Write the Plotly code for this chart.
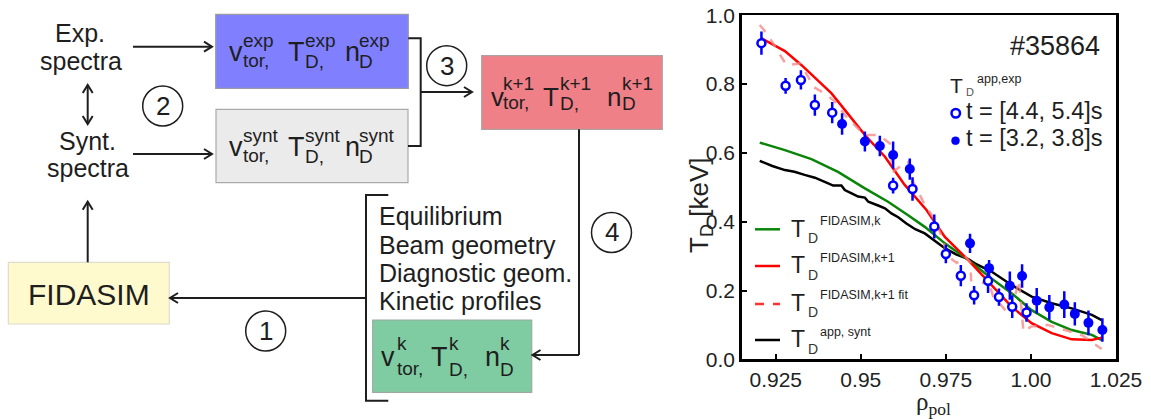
import plotly.graph_objects as go

# ---------------- data ----------------
rho_open = [0.9208, 0.9279, 0.9324, 0.9365, 0.9416, 0.9595, 0.9652, 0.9716, 0.9750, 0.9794,
            0.9833, 0.9874, 0.9906, 0.9945, 0.9987]
T_open = [0.919, 0.795, 0.812, 0.739, 0.717, 0.505, 0.495, 0.386, 0.306, 0.243,
          0.186, 0.228, 0.181, 0.153, 0.136]
err_open = [0.034, 0.023, 0.028, 0.031, 0.031, 0.023, 0.034, 0.035, 0.027, 0.031,
            0.027, 0.035, 0.025, 0.033, 0.027]

rho_fill = [0.9445, 0.9512, 0.9556, 0.9595, 0.9644, 0.9821, 0.9877, 0.9938, 0.9974, 1.0017,
            1.0054, 1.0098, 1.0129, 1.0169, 1.0210]
T_fill = [0.684, 0.633, 0.620, 0.594, 0.553, 0.337, 0.265, 0.214, 0.242, 0.170,
          0.151, 0.159, 0.132, 0.106, 0.085]
err_fill = [0.031, 0.029, 0.030, 0.039, 0.031, 0.028, 0.024, 0.041, 0.034, 0.037,
            0.036, 0.039, 0.034, 0.036, 0.034]

rho_red = [0.9208, 0.9277, 0.9326, 0.9414, 0.9453, 0.9512, 0.9571, 0.9629, 0.9693, 0.9747,
           0.9816, 0.9884, 0.9943, 1.0002, 1.0061, 1.0120, 1.0179, 1.0208]
T_red = [0.933, 0.896, 0.855, 0.773, 0.725, 0.652, 0.589, 0.507, 0.434, 0.356,
         0.288, 0.216, 0.153, 0.105, 0.076, 0.058, 0.056, 0.063]

rho_green = [0.9203, 0.9277, 0.9355, 0.9433, 0.9512, 0.9580, 0.9639, 0.9688, 0.9747, 0.9816,
             0.9884, 0.9943, 1.0002, 1.0061, 1.0120, 1.0179, 1.0208]
T_green = [0.630, 0.608, 0.582, 0.545, 0.497, 0.458, 0.419, 0.385, 0.337, 0.289,
           0.235, 0.192, 0.143, 0.109, 0.085, 0.071, 0.056]

rho_black = [0.9203, 0.9240, 0.9277, 0.9305, 0.9335, 0.9365, 0.9394, 0.9419, 0.9443, 0.9453,
             0.9473, 0.9492, 0.9512, 0.9522, 0.9551, 0.9571, 0.9590, 0.9610, 0.9634, 0.9660,
             0.9688, 0.9718, 0.9747, 0.9780, 0.9816, 0.9835, 0.9884, 0.9943, 1.0002, 1.0061,
             1.0120, 1.0179, 1.0208]
T_black = [0.577, 0.562, 0.550, 0.545, 0.536, 0.528, 0.516, 0.505, 0.505, 0.492,
           0.482, 0.473, 0.470, 0.458, 0.447, 0.439, 0.424, 0.413, 0.395, 0.378,
           0.366, 0.345, 0.323, 0.305, 0.291, 0.279, 0.255, 0.216, 0.182, 0.163,
           0.148, 0.129, 0.114]

rho_fit = [0.9203, 0.9227, 0.9257, 0.9282, 0.9321, 0.9345, 0.9360, 0.9394, 0.9424, 0.9453,
           0.9482, 0.9512, 0.9551, 0.9585, 0.9595, 0.9615, 0.9639, 0.9654, 0.9688, 0.9718,
           0.9742, 0.9752, 0.9782, 0.9806, 0.9822, 0.9826, 0.9852, 0.9872, 0.9890, 0.9910,
           0.9935, 0.9950, 0.9965, 0.9978, 1.0000, 1.0050, 1.0100, 1.0150, 1.0208]
T_fit = [0.972, 0.943, 0.894, 0.855, 0.860, 0.822, 0.792, 0.773, 0.749, 0.710,
         0.681, 0.652, 0.652, 0.628, 0.545, 0.560, 0.574, 0.516, 0.449, 0.405,
         0.347, 0.303, 0.280, 0.300, 0.280, 0.190, 0.215, 0.235, 0.180, 0.160,
         0.130, 0.170, 0.230, 0.080, 0.095, 0.100, 0.085, 0.070, 0.030]

x_ticks = [0.925, 0.95, 0.975, 1.0, 1.025]
x_ticktext = ["0.925", "0.95", "0.975", "1.00", "1.025"]
y_ticks = [0.0, 0.2, 0.4, 0.6, 0.8, 1.0]
y_ticktext = ["0.0", "0.2", "0.4", "0.6", "0.8", "1.0"]

# ---------------- helpers ----------------
W, H = 1151, 419
FONT = "Arial, Liberation Sans, Helvetica, sans-serif"
SERIF = "Times New Roman, Liberation Serif, serif"
INK = "#1e1e1e"


def X(px):
    return px / W


def Y(py):
    return 1 - py / H


fig = go.Figure()


def text(px, base, s, fs, anchor="left", family=FONT, color=INK):
    fig.add_annotation(x=X(px), y=Y(base - 0.35 * fs), xref="paper", yref="paper",
                       text=s, showarrow=False, xanchor=anchor, yanchor="middle",
                       font=dict(family=family, size=fs, color=color),
                       borderpad=0, borderwidth=0)


def path(points, width=2):
    d = "M " + " L ".join(f"{X(a):.5f},{Y(b):.5f}" for a, b in points)
    fig.add_shape(type="path", path=d, xref="paper", yref="paper",
                  line=dict(color=INK, width=width))


def head(tx, ty, dx, dy):
    # open chevron arrow head with its tip at (tx, ty), pointing along (dx, dy)
    bx, by = tx - 8 * dx, ty - 8 * dy
    px_, py_ = -dy, dx
    path([(bx + 5 * px_, by + 5 * py_), (tx, ty), (bx - 5 * px_, by - 5 * py_)])


def arrow(x0, y0, x1, y1, both=False):
    path([(x0, y0), (x1, y1)])
    L = ((x1 - x0) ** 2 + (y1 - y0) ** 2) ** 0.5
    dx, dy = (x1 - x0) / L, (y1 - y0) / L
    head(x1, y1, dx, dy)
    if both:
        head(x0, y0, -dx, -dy)


def box(x0, y0, x1, y1, fill, edge):
    fig.add_shape(type="rect", xref="paper", yref="paper", x0=X(x0), x1=X(x1),
                  y0=Y(y1), y1=Y(y0), fillcolor=fill, line=dict(color=edge, width=1.2),
                  layer="below")


def circ_num(cx, cy, s, r=20):
    fig.add_shape(type="circle", xref="paper", yref="paper", x0=X(cx - r), x1=X(cx + r),
                  y0=Y(cy + r), y1=Y(cy - r), line=dict(color=INK, width=1.5))
    text(cx, cy + 9, s, 26, anchor="center")


def stacked(px, base, main, fs, spx, sup, sbase_sup, sub, sbase_sub, fs2):
    text(px, base, main, fs)
    text(spx, sbase_sup, sup, fs2)
    text(spx, sbase_sub, sub, fs2)


# ---------------- plot traces ----------------
fig.add_trace(go.Scatter(x=rho_black, y=T_black, mode="lines",
                         line=dict(color="black", width=2.5), showlegend=False))
fig.add_trace(go.Scatter(x=rho_green, y=T_green, mode="lines",
                         line=dict(color="#0a850a", width=2.5), showlegend=False))
fig.add_trace(go.Scatter(x=rho_red, y=T_red, mode="lines",
                         line=dict(color="#ff0000", width=2.5), showlegend=False))
fig.add_trace(go.Scatter(x=rho_fit, y=T_fit, mode="lines",
                         line=dict(color="rgba(245,130,130,0.75)", width=2.5, dash="dash"),
                         showlegend=False))
fig.add_trace(go.Scatter(x=rho_fill, y=T_fill, mode="markers",
                         marker=dict(color="#0000ff", size=10, line=dict(width=0)),
                         error_y=dict(type="data", array=err_fill, color="#0000ff",
                                      thickness=2.5, width=0),
                         showlegend=False))
fig.add_trace(go.Scatter(x=rho_open, y=T_open, mode="markers",
                         marker=dict(color="white", size=8, line=dict(color="#0000ff", width=2.5)),
                         error_y=dict(type="data", array=err_open, color="#0000ff",
                                      thickness=2.5, width=0),
                         showlegend=False))

fig.update_xaxes(range=[0.915, 1.025], domain=[X(741.7), X(1116)],
                 tickvals=x_ticks, ticktext=x_ticktext, ticks="inside", ticklen=5,
                 tickwidth=2, tickcolor="black", showline=True, mirror=True,
                 linecolor="black", linewidth=2.5, showgrid=False, zeroline=False,
                 tickfont=dict(family=FONT, size=21, color="#222"), automargin=False)
fig.update_yaxes(range=[0, 1], domain=[Y(359.3), Y(15.3)],
                 tickvals=y_ticks, ticktext=y_ticktext, ticks="inside", ticklen=5,
                 tickwidth=2, tickcolor="black", showline=True, mirror=True,
                 linecolor="black", linewidth=2.5, showgrid=False, zeroline=False,
                 tickfont=dict(family=FONT, size=21, color="#222"), automargin=False)

# axis titles
fig.add_annotation(x=X(700), y=Y(205), xref="paper", yref="paper", showarrow=False,
                   text="T<sub>D</sub> [keV]", textangle=-90, xanchor="center", yanchor="middle",
                   font=dict(family=FONT, size=26, color="#222"))
fig.add_annotation(x=X(933), y=Y(403), xref="paper", yref="paper", showarrow=False,
                   text="ρ<sub>pol</sub>", xanchor="center", yanchor="middle",
                   font=dict(family=SERIF, size=25, color="#222"))

# shot number and legends
text(1055, 55, "#35864", 27, anchor="center")
text(950, 93, "T", 21)
text(966, 95.5, "D", 11, color="#555")
text(977, 83, "app,exp", 12.5)
fig.add_shape(type="circle", xref="paper", yref="paper", x0=X(951.5), x1=X(960),
              y0=Y(117.5), y1=Y(109), fillcolor="white", line=dict(color="#0000ff", width=2.5))
fig.add_shape(type="circle", xref="paper", yref="paper", x0=X(951.5), x1=X(959.5),
              y0=Y(144.7), y1=Y(136.7), fillcolor="#0000ff", line=dict(color="#0000ff", width=0.5))
text(966, 119, "t = [4.4, 5.4]s", 23.5)
text(966, 146.2, "t = [3.2, 3.8]s", 23.5)

leg = [("#0a850a", "solid", "FIDASIM,k", 229.3, 236.7),
       ("#ff0000", "solid", "FIDASIM,k+1", 266, 273.3),
       ("#ff3030", "dash", "FIDASIM,k+1 fit", 304, 310.7),
       ("black", "solid", "app, synt", 340, 347)]
for col, dash, lab, ly, tb in leg:
    fig.add_shape(type="line", xref="paper", yref="paper", x0=X(755), x1=X(780),
                  y0=Y(ly), y1=Y(ly), line=dict(color=col, width=2.5, dash=dash))
    text(791, tb, "T", 23)
    text(808, tb + 6.5, "D", 14, color="#333")
    text(820, tb - 11, lab, 12.5)

# ---------------- diagram ----------------
box(215.7, 14.3, 408.3, 88.3, "#8080ff", "#9a9aa8")
box(216, 109.3, 408, 182.7, "#ebebeb", "#aaaaaa")
box(481.7, 55.7, 662.3, 129.3, "#f08088", "#b0a0a0")
box(8.3, 262.3, 169.3, 324, "#fffacd", "#dcdcd0")
box(372.7, 320, 531.7, 392.3, "#80cca2", "#9aaa9f")

text(80, 41.7, "Exp.", 25, anchor="center")
text(80.5, 70, "spectra", 25, anchor="center")
text(87, 150, "Synt.", 25, anchor="center")
text(87.5, 176.7, "spectra", 25, anchor="center")
text(88.5, 305, "FIDASIM", 30, anchor="center")
for i, s in enumerate(["Equilibrium", "Beam geometry", "Diagnostic geom.", "Kinetic profiles"]):
    text(379, 225 + 28.3 * i, s, 25)

# box labels
for dy, sup in [(0, "exp"), (95, "synt")]:
    stacked(229, 61.7 + dy, "v", 27, 243, sup, 46.7 + dy, "tor,", 66.7 + dy, 19)
    stacked(288, 61.7 + dy, "T", 27, 304.5, sup, 46.7 + dy, "D,", 68.3 + dy, 19)
    stacked(344.5, 61.7 + dy, "n", 27, 359, sup, 46.7 + dy, "D", 68.3 + dy, 19)
stacked(491, 106.5, "v", 26, 503, "k+1", 90, "tor,", 109, 19)
stacked(543, 106.5, "T", 26, 559.5, "k+1", 90, "D,", 110, 19)
stacked(606.5, 106.5, "n", 26, 622, "k+1", 90, "D", 110, 19)
stacked(381, 366.7, "v", 27, 396.7, "k", 350, "tor,", 375, 19)
stacked(431, 366.7, "T", 27, 449, "k", 350, "D,", 376, 19)
stacked(484.5, 366.7, "n", 27, 500, "k", 350, "D", 376, 19)

# arrows and connectors
arrow(133, 46.7, 212, 46.7)
arrow(133, 154, 212, 154)
arrow(87.7, 124, 87.7, 85, both=True)
arrow(87.7, 262.3, 87.7, 201.7)
path([(408.3, 38.3), (420.7, 38.3), (420.7, 146), (408, 146)])
arrow(420.7, 92, 472, 92)
path([(579, 129.3), (579, 355)])
arrow(579, 355, 532.5, 355)
path([(388.3, 195), (366, 195), (366, 400.7), (388.3, 400.7)])
arrow(366, 298, 170, 298)

circ_num(162.7, 106, "2")
circ_num(446.7, 65.7, "3")
circ_num(265.7, 331, "1")
circ_num(611.5, 232.5, "4")

fig.update_layout(width=W, height=H, margin=dict(l=0, r=0, t=0, b=0),
                  paper_bgcolor="white", plot_bgcolor="white", showlegend=False)

fig.write_html("out.html", config={"displayModeBar": False, "staticPlot": True},
               post_script="document.body.style.margin='0';document.body.style.overflow='hidden';")
